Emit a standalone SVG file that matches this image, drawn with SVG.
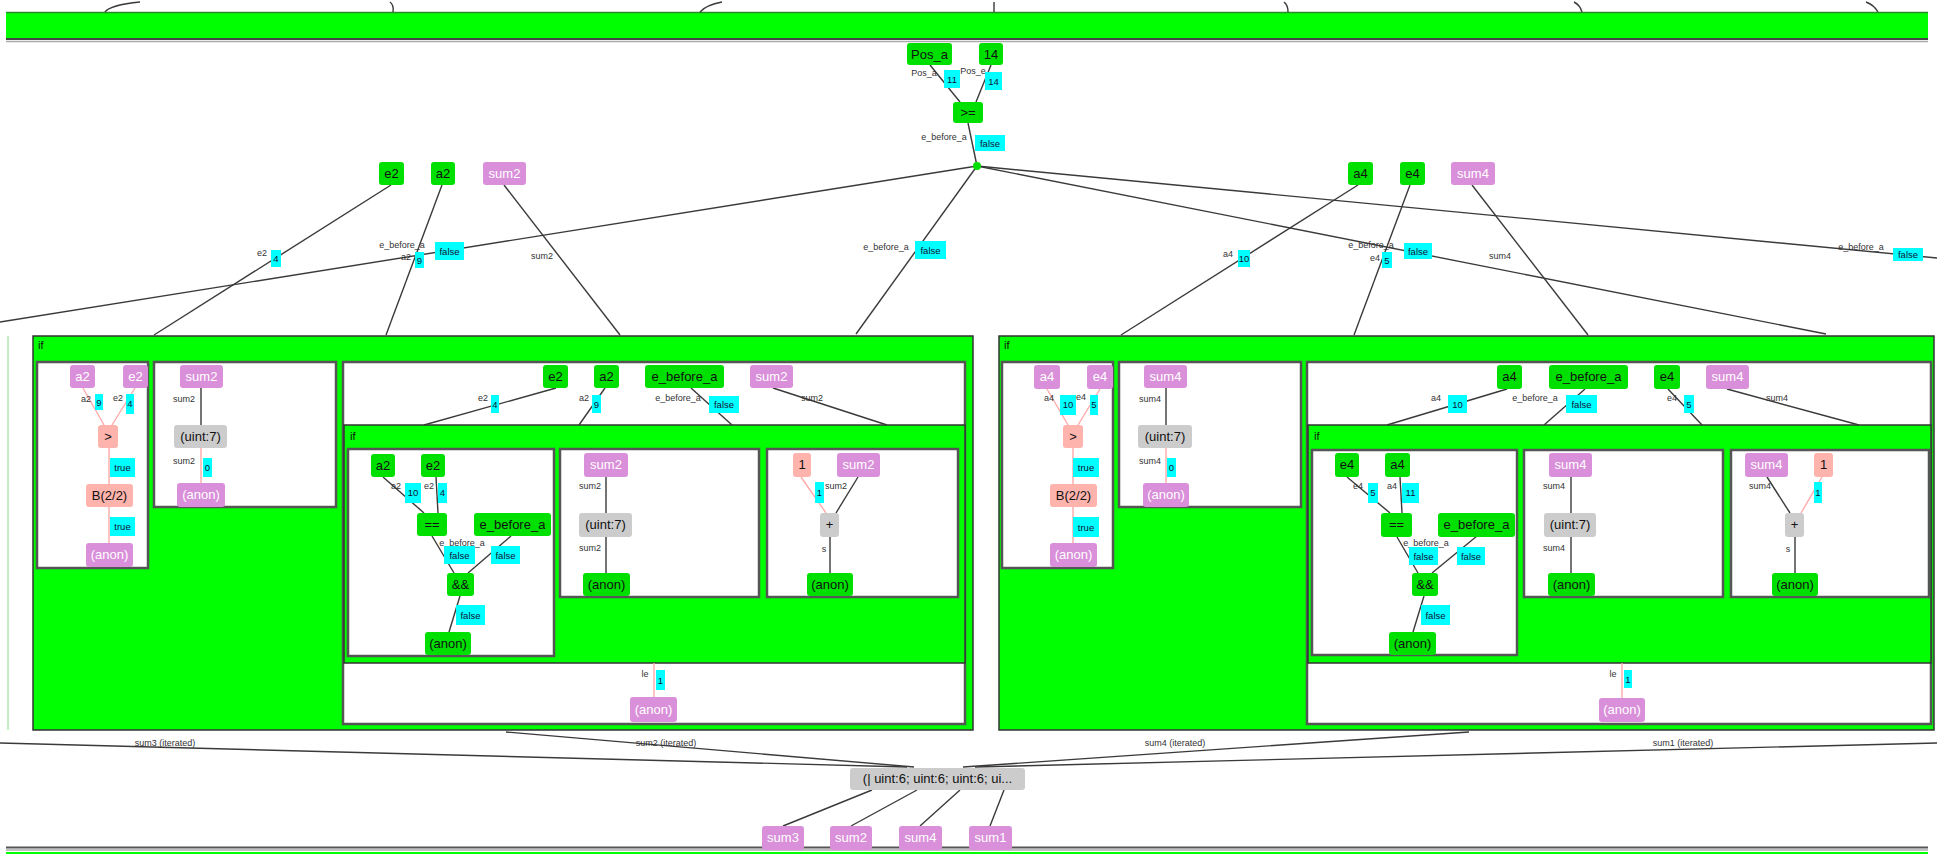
<svg xmlns="http://www.w3.org/2000/svg" width="1937" height="854" viewBox="0 0 1937 854">
<style>
text{font-family:"Liberation Sans",Arial,sans-serif}
.g{fill:#00e000}
.p{fill:#d98fd9}
.s{fill:#ffb3ad}
.y{fill:#cccccc}
.c{fill:#00ffff}
.t{font-size:13px;text-anchor:middle;fill:#111}
.tw{font-size:13px;text-anchor:middle;fill:#fff}
.l{font-size:9px;text-anchor:middle;fill:#333}
.ct{font-size:9.5px;text-anchor:middle;fill:#113}
.box{fill:#fff;stroke:#555;stroke-width:2.5}
.gbox{fill:#00ff00;stroke:#333;stroke-width:1.5}
.e{stroke:#3a3a3a;stroke-width:1.4;fill:none}
.ep{stroke:#ffaaaa;stroke-width:1.4;fill:none}
.title{font-size:11px;fill:#111}
</style>
<rect width="1937" height="854" fill="#fff"/>

<!-- top bar -->
<g id="top-bar">
<rect x="6" y="12" width="1922" height="28" fill="#00ff00"/>
<line x1="6" y1="12.5" x2="1928" y2="12.5" stroke="#2a8a2a" stroke-width="1.5"/>
<line x1="6" y1="39" x2="1928" y2="39" stroke="#444" stroke-width="2"/>
<line x1="6" y1="41.5" x2="1928" y2="41.5" stroke="#aaa" stroke-width="1.5"/>
</g>
<!-- bottom bar -->
<g id="bottom-bar">
<line x1="6" y1="847.5" x2="1928" y2="847.5" stroke="#555" stroke-width="2"/>
<line x1="6" y1="850" x2="1928" y2="850" stroke="#aaa" stroke-width="1.5"/>
<rect x="6" y="852" width="1922" height="2" fill="#00ff00"/>
</g>

<!-- left edge line -->
<line x1="8" y1="336" x2="8" y2="730" stroke="#8d8" stroke-width="1"/>

<!-- big boxes -->
<g id="if-left">
<rect class="gbox" x="33" y="336" width="940" height="394"/>
<text class="title" x="38" y="349">if</text>
</g>
<g id="if-right">
<rect class="gbox" x="999" y="336" width="935" height="394"/>
<text class="title" x="1004" y="349">if</text>
</g>

<!-- left inner boxes -->
<g id="boxA"><rect class="box" x="37" y="362" width="111" height="206"/></g>
<g id="boxB"><rect class="box" x="154" y="362" width="182" height="145"/></g>
<g id="boxC"><rect class="box" x="343" y="362" width="622" height="362"/></g>
<g id="if-left-inner">
<rect class="gbox" x="344" y="425" width="621" height="238"/>
<text class="title" x="350" y="440">if</text>
</g>
<g id="boxD"><rect class="box" x="348" y="449" width="206" height="207"/></g>
<g id="boxE"><rect class="box" x="560" y="449" width="199" height="148"/></g>
<g id="boxF"><rect class="box" x="767" y="449" width="191" height="148"/></g>

<!-- right inner boxes -->
<g id="boxA2"><rect class="box" x="1002" y="362" width="111" height="206"/></g>
<g id="boxB2"><rect class="box" x="1119" y="362" width="182" height="145"/></g>
<g id="boxC2"><rect class="box" x="1307" y="362" width="624" height="362"/></g>
<g id="if-right-inner">
<rect class="gbox" x="1308" y="425" width="623" height="238"/>
<text class="title" x="1314" y="440">if</text>
</g>
<g id="boxD2"><rect class="box" x="1312" y="450" width="205" height="205"/></g>
<g id="boxE2"><rect class="box" x="1524" y="450" width="199" height="147"/></g>
<g id="boxF2"><rect class="box" x="1731" y="450" width="198" height="147"/></g>

<!-- connectors -->
<g id="connectors">
<!-- top stubs -->
<path class="e" d="M105,12 Q110,5 140,2"/>
<path class="e" d="M393,12 Q394,5 390,2"/>
<path class="e" d="M700,12 Q706,5 722,2"/>
<path class="e" d="M994,12 L994,2"/>
<path class="e" d="M1288,12 Q1288,5 1284,2"/>
<path class="e" d="M1582,12 Q1580,5 1574,2"/>
<path class="e" d="M1878,12 Q1874,5 1866,2"/>

<line class="e" x1="930" y1="65" x2="960" y2="102"/>
<line class="e" x1="991" y1="65" x2="976" y2="102"/>
<line class="e" x1="968" y1="123" x2="977" y2="166"/>

<line class="e" x1="977" y1="166" x2="0" y2="322"/>
<line class="e" x1="977" y1="166" x2="856" y2="334"/>
<line class="e" x1="977" y1="166" x2="1826" y2="334"/>
<line class="e" x1="977" y1="166" x2="1937" y2="258"/>

<line class="e" x1="391" y1="185" x2="154" y2="335"/>
<line class="e" x1="442" y1="185" x2="386" y2="335"/>
<line class="e" x1="504" y1="185" x2="620" y2="335"/>
<line class="e" x1="1358" y1="185" x2="1121" y2="335"/>
<line class="e" x1="1410" y1="185" x2="1354" y2="335"/>
<line class="e" x1="1472" y1="185" x2="1588" y2="335"/>

<!-- box A -->
<line class="ep" x1="83" y1="388" x2="104" y2="425"/>
<line class="ep" x1="135" y1="388" x2="112" y2="425"/>
<line class="ep" x1="109" y1="448" x2="109" y2="543"/>
<!-- box B -->
<line class="e" x1="201" y1="388" x2="201" y2="425"/>
<line class="ep" x1="201" y1="448" x2="201" y2="483"/>
<!-- box C strip -->
<line class="e" x1="556" y1="388" x2="424" y2="425"/>
<line class="e" x1="605" y1="388" x2="579" y2="425"/>
<line class="e" x1="691" y1="388" x2="732" y2="425"/>
<line class="e" x1="773" y1="388" x2="887" y2="425"/>
<!-- box D -->
<line class="e" x1="383" y1="477" x2="424" y2="513"/>
<line class="e" x1="436" y1="477" x2="438" y2="513"/>
<line class="e" x1="432" y1="536" x2="454" y2="573"/>
<line class="e" x1="511" y1="536" x2="468" y2="573"/>
<line class="e" x1="460" y1="596" x2="449" y2="632"/>
<!-- box E -->
<line class="e" x1="606" y1="477" x2="606" y2="573"/>
<!-- box F -->
<line class="ep" x1="801" y1="477" x2="826" y2="513"/>
<line class="e" x1="858" y1="477" x2="836" y2="513"/>
<line class="e" x1="830" y1="537" x2="830" y2="573"/>
<!-- C bottom -->
<line class="ep" x1="654" y1="663" x2="654" y2="697"/>

<!-- box A2 -->
<line class="ep" x1="1047" y1="389" x2="1068" y2="425"/>
<line class="ep" x1="1100" y1="389" x2="1078" y2="425"/>
<line class="ep" x1="1073" y1="448" x2="1073" y2="543"/>
<!-- box B2 -->
<line class="e" x1="1166" y1="388" x2="1166" y2="425"/>
<line class="ep" x1="1166" y1="448" x2="1166" y2="483"/>
<!-- box C2 strip -->
<line class="e" x1="1507" y1="389" x2="1387" y2="425"/>
<line class="e" x1="1585" y1="389" x2="1544" y2="425"/>
<line class="e" x1="1668" y1="389" x2="1702" y2="425"/>
<line class="e" x1="1727" y1="389" x2="1859" y2="425"/>
<!-- box D2 -->
<line class="e" x1="1347" y1="477" x2="1390" y2="513"/>
<line class="e" x1="1400" y1="477" x2="1402" y2="513"/>
<line class="e" x1="1397" y1="537" x2="1418" y2="573"/>
<line class="e" x1="1477" y1="536" x2="1432" y2="573"/>
<line class="e" x1="1424" y1="596" x2="1413" y2="632"/>
<!-- box E2 -->
<line class="e" x1="1571" y1="477" x2="1571" y2="573"/>
<!-- box F2 -->
<line class="e" x1="1767" y1="477" x2="1790" y2="513"/>
<line class="ep" x1="1822" y1="477" x2="1801" y2="513"/>
<line class="e" x1="1795" y1="537" x2="1795" y2="573"/>
<!-- C2 bottom -->
<line class="ep" x1="1622" y1="663" x2="1622" y2="698"/>

<!-- bottom edges -->
<line class="e" x1="0" y1="743" x2="907" y2="767"/>
<line class="e" x1="506" y1="732" x2="914" y2="767"/>
<line class="e" x1="1469" y1="732" x2="963" y2="767"/>
<line class="e" x1="1937" y1="743" x2="975" y2="767"/>
<line class="e" x1="783" y1="826" x2="872" y2="790"/>
<line class="e" x1="851" y1="826" x2="917" y2="790"/>
<line class="e" x1="920" y1="826" x2="960" y2="790"/>
<line class="e" x1="990" y1="826" x2="1004" y2="790"/>

<!-- edge labels -->
<text class="l" x="924" y="76" font-size="8.5">Pos_a</text>
<rect class="c" x="944" y="70" width="16" height="18"/><text class="ct" x="952" y="83">11</text>
<text class="l" x="973" y="74" font-size="8.5">Pos_e</text>
<rect class="c" x="985" y="72" width="17" height="18"/><text class="ct" x="993.5" y="85">14</text>
<text class="l" x="944" y="140">e_before_a</text>
<rect class="c" x="975" y="135" width="30" height="16"/><text class="ct" x="990" y="147">false</text>

<text class="l" x="262" y="256">e2</text>
<rect class="c" x="271" y="250" width="10" height="17"/><text class="ct" x="276" y="262">4</text>
<text class="l" x="402" y="248">e_before_a</text>
<text class="l" x="406" y="260">a2</text>
<rect class="c" x="415" y="252" width="9" height="16"/><text class="ct" x="419.5" y="264">9</text>
<rect class="c" x="435" y="242" width="29" height="18"/><text class="ct" x="449.5" y="255">false</text>
<text class="l" x="542" y="259">sum2</text>
<text class="l" x="886" y="250">e_before_a</text>
<rect class="c" x="915" y="241" width="31" height="18"/><text class="ct" x="930.5" y="254">false</text>

<text class="l" x="1228" y="257">a4</text>
<rect class="c" x="1238" y="250" width="12" height="17"/><text class="ct" x="1244" y="262" font-size="7">10</text>
<text class="l" x="1371" y="248">e_before_a</text>
<text class="l" x="1375" y="261">e4</text>
<rect class="c" x="1382" y="252" width="10" height="16"/><text class="ct" x="1387" y="264">5</text>
<rect class="c" x="1404" y="243" width="28" height="16"/><text class="ct" x="1418" y="255">false</text>
<text class="l" x="1500" y="259">sum4</text>
<text class="l" x="1861" y="250">e_before_a</text>
<rect class="c" x="1893" y="248" width="30" height="13"/><text class="ct" x="1908" y="258">false</text>

<!-- box A labels -->
<text class="l" x="86" y="402">a2</text>
<rect class="c" x="95" y="394" width="8" height="16"/><text class="ct" x="99" y="406">9</text>
<text class="l" x="118" y="401">e2</text>
<rect class="c" x="126" y="394" width="8" height="20"/><text class="ct" x="130" y="407">4</text>
<rect class="c" x="110" y="458" width="25" height="19"/><text class="ct" x="122.5" y="471">true</text>
<rect class="c" x="110" y="517" width="25" height="19"/><text class="ct" x="122.5" y="530">true</text>
<!-- box B labels -->
<text class="l" x="184" y="402">sum2</text>
<text class="l" x="184" y="464">sum2</text>
<rect class="c" x="203" y="458" width="9" height="19"/><text class="ct" x="207.5" y="471">0</text>
<!-- box C strip labels -->
<text class="l" x="483" y="401">e2</text>
<rect class="c" x="491" y="395" width="8" height="18"/><text class="ct" x="495" y="408">4</text>
<text class="l" x="584" y="401">a2</text>
<rect class="c" x="592" y="395" width="9" height="18"/><text class="ct" x="596.5" y="408">9</text>
<text class="l" x="678" y="401">e_before_a</text>
<rect class="c" x="709" y="396" width="30" height="17"/><text class="ct" x="724" y="408">false</text>
<text class="l" x="812" y="401">sum2</text>
<!-- box D labels -->
<text class="l" x="396" y="489">a2</text>
<rect class="c" x="405" y="483" width="16" height="20"/><text class="ct" x="413" y="496">10</text>
<text class="l" x="429" y="489">e2</text>
<rect class="c" x="438" y="483" width="9" height="20"/><text class="ct" x="442.5" y="496">4</text>
<text class="l" x="462" y="546" font-size="8">e_before_a</text>
<rect class="c" x="444" y="546" width="31" height="18"/><text class="ct" x="459.5" y="559">false</text>
<rect class="c" x="491" y="546" width="29" height="18"/><text class="ct" x="505.5" y="559">false</text>
<rect class="c" x="456" y="605" width="29" height="20"/><text class="ct" x="470.5" y="619">false</text>
<!-- box E labels -->
<text class="l" x="590" y="489">sum2</text>
<text class="l" x="590" y="551">sum2</text>
<!-- box F labels -->
<rect class="c" x="815" y="482" width="9" height="21"/><text class="ct" x="819.5" y="496">1</text>
<text class="l" x="836" y="489">sum2</text>
<text class="l" x="824" y="552">s</text>
<!-- C bottom labels -->
<text class="l" x="645" y="677">le</text>
<rect class="c" x="656" y="670" width="9" height="20"/><text class="ct" x="660.5" y="684">1</text>

<!-- box A2 labels -->
<text class="l" x="1049" y="401">a4</text>
<rect class="c" x="1060" y="395" width="16" height="20"/><text class="ct" x="1068" y="408">10</text>
<text class="l" x="1081" y="400">e4</text>
<rect class="c" x="1090" y="395" width="8" height="20"/><text class="ct" x="1094" y="408">5</text>
<rect class="c" x="1073" y="458" width="26" height="19"/><text class="ct" x="1086" y="471">true</text>
<rect class="c" x="1073" y="517" width="26" height="20"/><text class="ct" x="1086" y="531">true</text>
<!-- box B2 labels -->
<text class="l" x="1150" y="402">sum4</text>
<text class="l" x="1150" y="464">sum4</text>
<rect class="c" x="1167" y="458" width="9" height="19"/><text class="ct" x="1171.5" y="471">0</text>
<!-- box C2 strip labels -->
<text class="l" x="1436" y="401">a4</text>
<rect class="c" x="1448" y="395" width="19" height="18"/><text class="ct" x="1457.5" y="408">10</text>
<text class="l" x="1535" y="401">e_before_a</text>
<rect class="c" x="1566" y="395" width="31" height="18"/><text class="ct" x="1581.5" y="408">false</text>
<text class="l" x="1672" y="401">e4</text>
<rect class="c" x="1684" y="395" width="10" height="18"/><text class="ct" x="1689" y="408">5</text>
<text class="l" x="1777" y="401">sum4</text>
<!-- box D2 labels -->
<text class="l" x="1358" y="489">e4</text>
<rect class="c" x="1368" y="483" width="10" height="20"/><text class="ct" x="1373" y="496">5</text>
<text class="l" x="1392" y="489">a4</text>
<rect class="c" x="1402" y="483" width="17" height="20"/><text class="ct" x="1410.5" y="496">11</text>
<text class="l" x="1426" y="546" font-size="8">e_before_a</text>
<rect class="c" x="1409" y="547" width="29" height="18"/><text class="ct" x="1423.5" y="560">false</text>
<rect class="c" x="1457" y="547" width="28" height="18"/><text class="ct" x="1471" y="560">false</text>
<rect class="c" x="1421" y="605" width="29" height="20"/><text class="ct" x="1435.5" y="619">false</text>
<!-- box E2 labels -->
<text class="l" x="1554" y="489">sum4</text>
<text class="l" x="1554" y="551">sum4</text>
<!-- box F2 labels -->
<text class="l" x="1760" y="489">sum4</text>
<rect class="c" x="1814" y="482" width="8" height="21"/><text class="ct" x="1818" y="496">1</text>
<text class="l" x="1788" y="552">s</text>
<!-- C2 bottom labels -->
<text class="l" x="1613" y="677">le</text>
<rect class="c" x="1624" y="670" width="8" height="18"/><text class="ct" x="1628" y="683">1</text>

<!-- bottom labels -->
<text class="l" x="165" y="746">sum3 (iterated)</text>
<text class="l" x="666" y="746">sum2 (iterated)</text>
<text class="l" x="1175" y="746">sum4 (iterated)</text>
<text class="l" x="1683" y="746">sum1 (iterated)</text>
</g>

<!-- top-level nodes -->
<g id="n-pos_a"><rect class="g" x="907" y="43" width="45" height="22" rx="3"/><text class="t" x="929.5" y="58.5">Pos_a</text></g>
<g id="n-14"><rect class="g" x="979" y="43" width="24" height="22" rx="3"/><text class="t" x="991" y="58.5">14</text></g>
<g id="n-ge"><rect class="g" x="953" y="102" width="30" height="21" rx="3"/><text class="t" x="968" y="117">&gt;=</text></g>
<g id="n-dot"><circle cx="977" cy="166" r="4" fill="#00e000"/></g>
<g id="n-e2"><rect class="g" x="379" y="162" width="25" height="23" rx="3"/><text class="t" x="391.5" y="178">e2</text></g>
<g id="n-a2"><rect class="g" x="431" y="162" width="24" height="23" rx="3"/><text class="t" x="443" y="178">a2</text></g>
<g id="n-sum2"><rect class="p" x="483" y="162" width="43" height="23" rx="3"/><text class="tw" x="504.5" y="178">sum2</text></g>
<g id="n-a4"><rect class="g" x="1348" y="162" width="25" height="23" rx="3"/><text class="t" x="1360.5" y="178">a4</text></g>
<g id="n-e4"><rect class="g" x="1400" y="162" width="25" height="23" rx="3"/><text class="t" x="1412.5" y="178">e4</text></g>
<g id="n-sum4"><rect class="p" x="1451" y="162" width="44" height="23" rx="3"/><text class="tw" x="1473" y="178">sum4</text></g>

<!-- box A nodes -->
<g id="A-a2"><rect class="p" x="70" y="365" width="25" height="23" rx="3"/><text class="tw" x="82.5" y="381">a2</text></g>
<g id="A-e2"><rect class="p" x="123" y="365" width="25" height="23" rx="3"/><text class="tw" x="135.5" y="381">e2</text></g>
<g id="A-gt"><rect class="s" x="98" y="425" width="20" height="23" rx="3"/><text class="t" x="108" y="441">&gt;</text></g>
<g id="A-b22"><rect class="s" x="86" y="484" width="47" height="23" rx="3"/><text class="t" x="109.5" y="500">B(2/2)</text></g>
<g id="A-anon"><rect class="p" x="86" y="543" width="47" height="24" rx="3"/><text class="tw" x="109.5" y="559">(anon)</text></g>
<!-- box B nodes -->
<g id="B-sum2"><rect class="p" x="180" y="365" width="43" height="23" rx="3"/><text class="tw" x="201.5" y="381">sum2</text></g>
<g id="B-uint"><rect class="y" x="174" y="425" width="53" height="23" rx="3"/><text class="t" x="200.5" y="441">(uint:7)</text></g>
<g id="B-anon"><rect class="p" x="177" y="483" width="48" height="24" rx="3"/><text class="tw" x="201" y="499">(anon)</text></g>
<!-- box C strip nodes -->
<g id="C-e2"><rect class="g" x="543" y="365" width="25" height="23" rx="3"/><text class="t" x="555.5" y="381">e2</text></g>
<g id="C-a2"><rect class="g" x="594" y="365" width="25" height="23" rx="3"/><text class="t" x="606.5" y="381">a2</text></g>
<g id="C-eba"><rect class="g" x="645" y="365" width="79" height="23" rx="3"/><text class="t" x="684.5" y="381">e_before_a</text></g>
<g id="C-sum2"><rect class="p" x="750" y="365" width="43" height="23" rx="3"/><text class="tw" x="771.5" y="381">sum2</text></g>
<!-- box D nodes -->
<g id="D-a2"><rect class="g" x="371" y="454" width="24" height="23" rx="3"/><text class="t" x="383" y="470">a2</text></g>
<g id="D-e2"><rect class="g" x="421" y="454" width="24" height="23" rx="3"/><text class="t" x="433" y="470">e2</text></g>
<g id="D-eq"><rect class="g" x="417" y="513" width="30" height="23" rx="3"/><text class="t" x="432" y="529">==</text></g>
<g id="D-eba"><rect class="g" x="474" y="513" width="77" height="23" rx="3"/><text class="t" x="512.5" y="529">e_before_a</text></g>
<g id="D-and"><rect class="g" x="447" y="573" width="27" height="23" rx="3"/><text class="t" x="460.5" y="589">&amp;&amp;</text></g>
<g id="D-anon"><rect class="g" x="425" y="632" width="46" height="23" rx="3"/><text class="t" x="448" y="648">(anon)</text></g>
<!-- box E nodes -->
<g id="E-sum2"><rect class="p" x="584" y="453" width="44" height="24" rx="3"/><text class="tw" x="606" y="469">sum2</text></g>
<g id="E-uint"><rect class="y" x="579" y="513" width="53" height="24" rx="3"/><text class="t" x="605.5" y="529">(uint:7)</text></g>
<g id="E-anon"><rect class="g" x="583" y="573" width="47" height="23" rx="3"/><text class="t" x="606.5" y="589">(anon)</text></g>
<!-- box F nodes -->
<g id="F-one"><rect class="s" x="793" y="453" width="18" height="24" rx="3"/><text class="t" x="802" y="469">1</text></g>
<g id="F-sum2"><rect class="p" x="837" y="453" width="43" height="24" rx="3"/><text class="tw" x="858.5" y="469">sum2</text></g>
<g id="F-plus"><rect class="y" x="820" y="513" width="19" height="24" rx="3"/><text class="t" x="829.5" y="529">+</text></g>
<g id="F-anon"><rect class="g" x="807" y="573" width="46" height="23" rx="3"/><text class="t" x="830" y="589">(anon)</text></g>
<!-- C bottom -->
<g id="C-anon"><rect class="p" x="630" y="697" width="47" height="25" rx="3"/><text class="tw" x="653.5" y="714">(anon)</text></g>

<!-- box A2 nodes -->
<g id="A2-a4"><rect class="p" x="1034" y="365" width="26" height="24" rx="3"/><text class="tw" x="1047" y="381">a4</text></g>
<g id="A2-e4"><rect class="p" x="1087" y="365" width="26" height="24" rx="3"/><text class="tw" x="1100" y="381">e4</text></g>
<g id="A2-gt"><rect class="s" x="1063" y="425" width="20" height="23" rx="3"/><text class="t" x="1073" y="441">&gt;</text></g>
<g id="A2-b22"><rect class="s" x="1050" y="484" width="47" height="23" rx="3"/><text class="t" x="1073.5" y="500">B(2/2)</text></g>
<g id="A2-anon"><rect class="p" x="1050" y="543" width="47" height="24" rx="3"/><text class="tw" x="1073.5" y="559">(anon)</text></g>
<!-- box B2 nodes -->
<g id="B2-sum4"><rect class="p" x="1144" y="365" width="43" height="23" rx="3"/><text class="tw" x="1165.5" y="381">sum4</text></g>
<g id="B2-uint"><rect class="y" x="1138" y="425" width="54" height="23" rx="3"/><text class="t" x="1165" y="441">(uint:7)</text></g>
<g id="B2-anon"><rect class="p" x="1143" y="483" width="46" height="24" rx="3"/><text class="tw" x="1166" y="499">(anon)</text></g>
<!-- box C2 strip -->
<g id="C2-a4"><rect class="g" x="1497" y="365" width="25" height="24" rx="3"/><text class="t" x="1509.5" y="381">a4</text></g>
<g id="C2-eba"><rect class="g" x="1549" y="365" width="79" height="24" rx="3"/><text class="t" x="1588.5" y="381">e_before_a</text></g>
<g id="C2-e4"><rect class="g" x="1654" y="365" width="26" height="24" rx="3"/><text class="t" x="1667" y="381">e4</text></g>
<g id="C2-sum4"><rect class="p" x="1706" y="365" width="43" height="24" rx="3"/><text class="tw" x="1727.5" y="381">sum4</text></g>
<!-- box D2 -->
<g id="D2-e4"><rect class="g" x="1335" y="453" width="24" height="24" rx="3"/><text class="t" x="1347" y="469">e4</text></g>
<g id="D2-a4"><rect class="g" x="1385" y="453" width="25" height="24" rx="3"/><text class="t" x="1397.5" y="469">a4</text></g>
<g id="D2-eq"><rect class="g" x="1381" y="513" width="31" height="24" rx="3"/><text class="t" x="1396.5" y="529">==</text></g>
<g id="D2-eba"><rect class="g" x="1438" y="513" width="77" height="24" rx="3"/><text class="t" x="1476.5" y="529">e_before_a</text></g>
<g id="D2-and"><rect class="g" x="1412" y="573" width="26" height="23" rx="3"/><text class="t" x="1425" y="589">&amp;&amp;</text></g>
<g id="D2-anon"><rect class="g" x="1389" y="632" width="47" height="23" rx="3"/><text class="t" x="1412.5" y="648">(anon)</text></g>
<!-- box E2 -->
<g id="E2-sum4"><rect class="p" x="1549" y="453" width="43" height="24" rx="3"/><text class="tw" x="1570.5" y="469">sum4</text></g>
<g id="E2-uint"><rect class="y" x="1544" y="513" width="52" height="24" rx="3"/><text class="t" x="1570" y="529">(uint:7)</text></g>
<g id="E2-anon"><rect class="g" x="1548" y="573" width="47" height="23" rx="3"/><text class="t" x="1571.5" y="589">(anon)</text></g>
<!-- box F2 -->
<g id="F2-sum4"><rect class="p" x="1745" y="453" width="43" height="24" rx="3"/><text class="tw" x="1766.5" y="469">sum4</text></g>
<g id="F2-one"><rect class="s" x="1814" y="453" width="19" height="24" rx="3"/><text class="t" x="1823.5" y="469">1</text></g>
<g id="F2-plus"><rect class="y" x="1785" y="513" width="19" height="24" rx="3"/><text class="t" x="1794.5" y="529">+</text></g>
<g id="F2-anon"><rect class="g" x="1772" y="573" width="46" height="23" rx="3"/><text class="t" x="1795" y="589">(anon)</text></g>
<!-- C2 bottom -->
<g id="C2-anon"><rect class="p" x="1599" y="698" width="46" height="24" rx="3"/><text class="tw" x="1622" y="714">(anon)</text></g>

<!-- bottom nodes -->
<g id="n-tuple"><rect class="y" x="850" y="768" width="175" height="22" rx="3"/><text class="t" x="937.5" y="783" font-size="11.5">(| uint:6; uint:6; uint:6; ui...</text></g>
<g id="n-sum3"><rect class="p" x="762" y="826" width="42" height="24" rx="3"/><text class="tw" x="783" y="842">sum3</text></g>
<g id="n-sum2b"><rect class="p" x="830" y="826" width="42" height="24" rx="3"/><text class="tw" x="851" y="842">sum2</text></g>
<g id="n-sum4b"><rect class="p" x="899" y="826" width="43" height="24" rx="3"/><text class="tw" x="920.5" y="842">sum4</text></g>
<g id="n-sum1"><rect class="p" x="969" y="826" width="43" height="24" rx="3"/><text class="tw" x="990.5" y="842">sum1</text></g>
</svg>
